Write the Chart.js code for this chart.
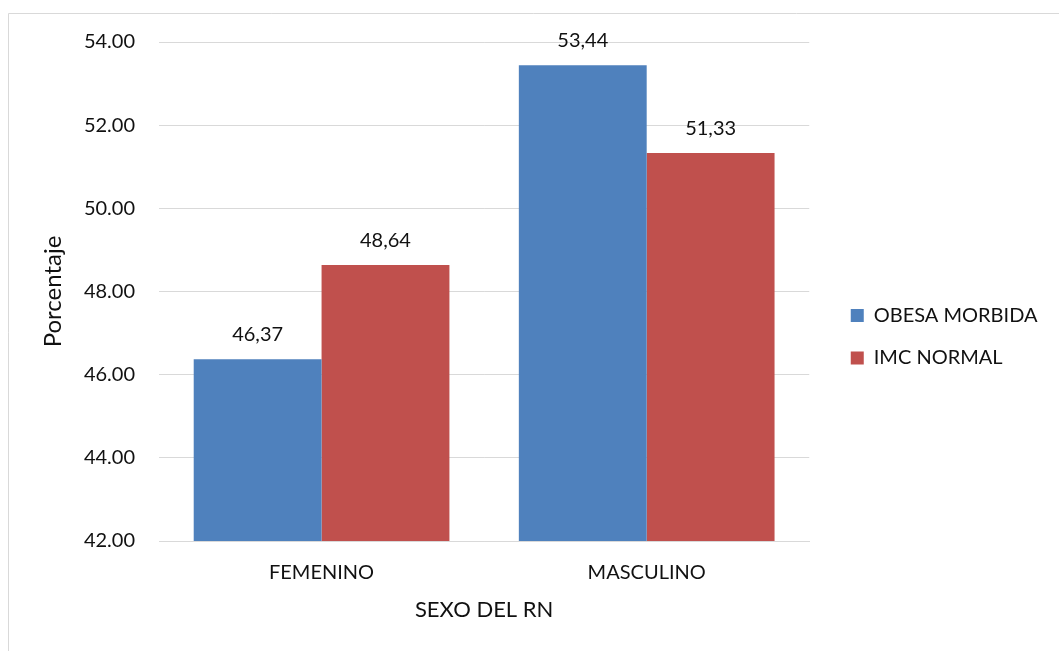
<!DOCTYPE html>
<html>
<head>
<meta charset="utf-8">
<script src="https://cdn.jsdelivr.net/npm/chart.js@4.4.1/dist/chart.umd.min.js"></script>
<style>
  html, body { margin: 0; padding: 0; background: #fff; }
  canvas { display: block; }
</style>
</head>
<body>
<canvas id="c" width="1059" height="651"></canvas>
<script>
const categories = ['FEMENINO', 'MASCULINO'];
const seriesNames = ['OBESA MORBIDA', 'IMC NORMAL'];
const obesaMorbida = [46.37, 53.44];
const imcNormal = [48.64, 51.33];
const yTicks = [42, 44, 46, 48, 50, 52, 54];
const xTitle = 'SEXO DEL RN';
const yTitle = 'Porcentaje';

const FONT = 'Lato, "Open Sans", sans-serif';
const TEXT = '#111111';
const GRID = '#d9d9d9';

const frame = {
  id: 'frame',
  beforeDraw(chart) {
    const ctx = chart.ctx;
    ctx.save();
    ctx.fillStyle = '#ffffff';
    ctx.fillRect(0, 0, chart.width, chart.height);
    ctx.strokeStyle = GRID;
    ctx.lineWidth = 1;
    ctx.beginPath();
    ctx.moveTo(8.5, chart.height);
    ctx.lineTo(8.5, 13.5);
    ctx.lineTo(chart.width, 13.5);
    ctx.stroke();
    ctx.restore();
  }
};

const valueLabels = {
  id: 'valueLabels',
  afterDatasetsDraw(chart) {
    const ctx = chart.ctx;
    ctx.save();
    ctx.font = '20px ' + FONT;
    ctx.fillStyle = TEXT;
    ctx.textAlign = 'center';
    ctx.textBaseline = 'alphabetic';
    chart.data.datasets.forEach((ds, di) => {
      const meta = chart.getDatasetMeta(di);
      meta.data.forEach((bar, i) => {
        const txt = ds.data[i].toFixed(2).replace('.', ',');
        ctx.fillText(txt, bar.x, bar.y - 18);
      });
    });
    ctx.restore();
  }
};

new Chart(document.getElementById('c'), {
  type: 'bar',
  data: {
    labels: categories,
    datasets: [
      { label: seriesNames[0], data: obesaMorbida, backgroundColor: '#4F81BD', borderWidth: 0 },
      { label: seriesNames[1], data: imcNormal, backgroundColor: '#C0504D', borderWidth: 0 }
    ]
  },
  options: {
    responsive: false,
    animation: false,
    events: [],
    categoryPercentage: 0.7865,
    barPercentage: 1.0,
    layout: { padding: { left: 10, top: 42, right: 11.5, bottom: 0 } },
    plugins: {
      tooltip: { enabled: false },
      legend: {
        position: 'right',
        align: 'start',
        maxWidth: 220,
        title: { display: true, text: ' ', font: { size: 10 }, padding: { top: 229, bottom: 0 } },
        labels: {
          boxWidth: 13,
          boxHeight: 13,
          padding: 22.5,
          color: TEXT,
          font: { family: FONT, size: 20 }
        }
      }
    },
    scales: {
      x: {
        grid: { display: false, drawTicks: false },
        border: { display: true, color: GRID, width: 1 },
        ticks: { color: TEXT, font: { family: FONT, size: 20 }, padding: 20 },
        title: { display: true, text: xTitle, color: TEXT, font: { family: FONT, size: 22 }, padding: { top: 0, bottom: 27.8 } },
        afterFit(s) { s.height = 110; }
      },
      y: {
        min: 42,
        max: 54,
        afterBuildTicks(s) { s.ticks = yTicks.map(v => ({ value: v })); },
        grid: { color: GRID, lineWidth: 1, drawTicks: false },
        border: { display: false },
        ticks: { color: TEXT, font: { family: FONT, size: 20 }, padding: 24, callback: v => Number(v).toFixed(2) },
        title: { display: true, text: yTitle, color: TEXT, font: { family: FONT, size: 24 }, padding: { top: 28.6, bottom: 0 } },
        afterFit(s) { s.width = 149; }
      },
      y2: {
        position: 'right',
        display: true,
        grid: { display: false, drawTicks: false },
        border: { display: false },
        ticks: { display: false },
        afterFit(s) { s.width = 19; }
      }
    }
  },
  plugins: [frame, valueLabels]
});
</script>
</body>
</html>
